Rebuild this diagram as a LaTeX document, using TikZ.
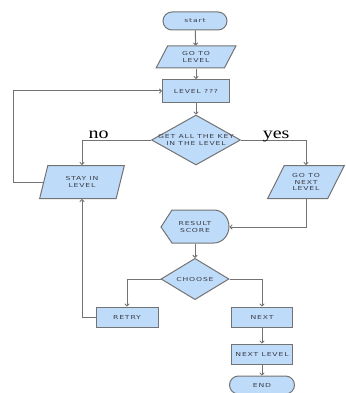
\documentclass[tikz,border=0pt]{standalone}
\usepackage{fontspec}
\setmainfont{Liberation Serif}
\newfontfamily\boxfont[FakeStretch=1.4, LetterSpace=15]{DejaVu Sans}
\usetikzlibrary{shapes.geometric,arrows.meta}

\definecolor{boxblue}{RGB}{190,220,250}
\definecolor{edgegray}{RGB}{115,115,115}
\definecolor{textgray}{RGB}{60,60,70}

\tikzset{
  boxtext/.style={text=textgray, font=\boxfont\fontsize{5.5}{6.8}\selectfont, align=center},
  base/.style={boxtext, draw=edgegray, fill=boxblue, line width=1pt, inner sep=1pt},
  procbox/.style={base, rectangle, minimum width=67, minimum height=23},
  iobox/.style={base, trapezium, trapezium left angle=#1, trapezium right angle=180-#1, trapezium stretches=true},
  iobox/.default=65,
  decision/.style={base, diamond, inner sep=0pt},
  termbox/.style={base, rectangle, rounded corners=9pt, minimum width=64, minimum height=18},
  flow/.style={draw=edgegray, line width=1pt, -{To[length=3pt, width=5pt]}},
  answer/.style={font=\fontsize{16}{16}\selectfont, inner sep=0pt, anchor=base, yshift=2pt, xscale=1.25, transform shape}
}

\begin{document}
\begin{tikzpicture}[x=1pt, y=1pt]
    \useasboundingbox (0,0) rectangle (345,-393);

    % shape behind the score node
    \filldraw[base] (161,-227) -- (172,-210) -- (214,-210)
        arc[start angle=90, end angle=-90, x radius=15, y radius=16.5]
        -- (172,-243) -- cycle;

    \node[termbox] (start) at (195,-21) {start};
    \node[iobox, minimum width=80, minimum height=22] (goto) at (196,-57) {GO TO\\LEVEL};
    \node[procbox] (level) at (196,-91) {LEVEL ???};
    \node[decision, minimum width=89, minimum height=50,
          label={[boxtext]center:GET ALL THE KEY\\IN THE LEVEL}] (keys) at (196,-140) {};
    \node[iobox=72, minimum width=85, minimum height=33] (stay) at (82,-182) {STAY IN\\LEVEL};
    \node[iobox=60, minimum width=77, minimum height=33] (nextgo) at (306,-182) {GO TO\\NEXT\\LEVEL};
    \node[base, draw=none, fill=none, minimum width=68, minimum height=33] (result) at (195,-227) {RESULT\\SCORE};
    \node[decision, minimum width=68, minimum height=32] (choose) at (195,-279) {CHOOSE};
    \node[procbox, minimum width=62, minimum height=20] (retry) at (127,-317) {RETRY};
    \node[procbox, minimum width=61, minimum height=20] (next) at (262,-317) {NEXT};
    \node[procbox, minimum width=61, minimum height=20] (nextlevel) at (262,-354) {NEXT LEVEL};
    \node[termbox, minimum width=65] (end) at (262,-385) {END};
    \coordinate (loopx) at (13,0);

    \draw[flow] (start) -- (goto);
    \draw[flow] (goto) -- (level);
    \draw[flow] (level) -- (keys);
    \draw[flow] (keys.west) -| node[answer, pos=0.38] {no} (stay.north);
    \draw[flow] (keys.east) -| node[answer, pos=0.27] {yes} (nextgo.north);
    \draw[flow] (stay.west) -- (stay.west -| loopx) |- (level.west);
    \draw[flow] (nextgo.south) |- (result.east);
    \draw[flow] (result) -- (choose);
    \draw[flow] (choose.west) -| (retry.north);
    \draw[flow] (choose.east) -| (next.north);
    \draw[flow] (retry.west) -| (stay.south);
    \draw[flow] (next) -- (nextlevel);
    \draw[flow] (nextlevel) -- (end);
\end{tikzpicture}
\end{document}
